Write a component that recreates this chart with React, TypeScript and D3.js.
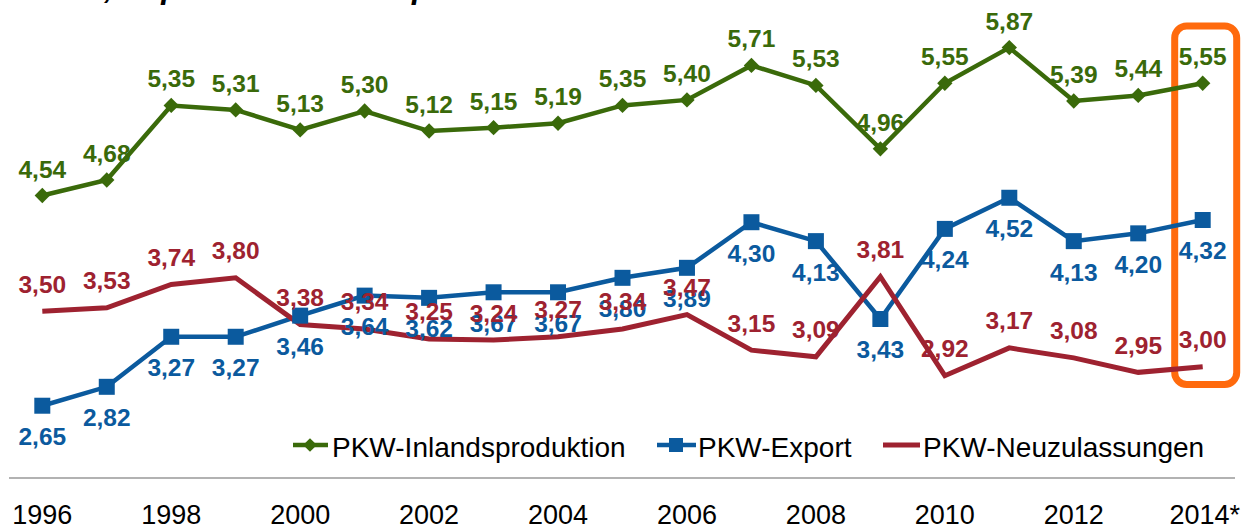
import React from "react";
import * as d3 from "d3";

const years = [1996, 1997, 1998, 1999, 2000, 2001, 2002, 2003, 2004, 2005, 2006, 2007, 2008, 2009, 2010, 2011, 2012, 2013, 2014];
const inlandsproduktion = [4.54, 4.68, 5.35, 5.31, 5.13, 5.30, 5.12, 5.15, 5.19, 5.35, 5.40, 5.71, 5.53, 4.96, 5.55, 5.87, 5.39, 5.44, 5.55];
const exportValues = [2.65, 2.82, 3.27, 3.27, 3.46, 3.64, 3.62, 3.67, 3.67, 3.80, 3.89, 4.30, 4.13, 3.43, 4.24, 4.52, 4.13, 4.20, 4.32];
const neuzulassungen = [3.50, 3.53, 3.74, 3.80, 3.38, 3.34, 3.25, 3.24, 3.27, 3.34, 3.47, 3.15, 3.09, 3.81, 2.92, 3.17, 3.08, 2.95, 3.00];
const tickYears = [1996, 1998, 2000, 2002, 2004, 2006, 2008, 2010, 2012, 2014];
const tickLabels = ["1996", "1998", "2000", "2002", "2004", "2006", "2008", "2010", "2012", "2014*"];
const seriesNames = ["PKW-Inlandsproduktion", "PKW-Export", "PKW-Neuzulassungen"];
const titleText = "in Mio., Export und Inlandsproduktion";

const GREEN = "#3A6A0A";
const BLUE = "#0B5A9E";
const RED = "#9E2230";
const ORANGE = "#FF6A0D";
const FONT = "'Liberation Sans', Arial, Helvetica, sans-serif";

export default function App() {
  const W = 1241;
  const H = 525;
  const x = d3.scaleLinear().domain([1996, 2014]).range([42.3, 1202.7]);
  const y = d3.scaleLinear().domain([2.5, 6.3]).range([422.4, -0.2]);
  const fmt = (v: number) => d3.format(".2f")(v).replace(".", ",");
  const line = d3
    .line<number>()
    .x((_, i) => x(years[i]))
    .y((v) => y(v));

  const diamond = d3.symbol().type(d3.symbolDiamond2).size(150)();
  const square = d3.symbol().type(d3.symbolSquare).size(256)();
  const legDiamond = d3.symbol().type(d3.symbolDiamond2).size(120)();
  const legSquare = d3.symbol().type(d3.symbolSquare).size(196)();

  const x2014 = x(2014);

  return (
    <svg
      width={W}
      height={H}
      style={{ position: "absolute", left: 0, top: 0, background: "#fff", fontFamily: FONT }}
    >
      <rect width={W} height={H} fill="#fff" />
      {/* cut-off title */}
      <text x={3} y={-2.5} fontSize={32} fontWeight="bold" fontStyle="italic" fill="#000">
        {titleText}
      </text>

      {/* highlight box */}
      <rect
        x={x2014 - 28}
        y={26}
        width={62}
        height={358.5}
        rx={12}
        ry={12}
        fill="none"
        stroke={ORANGE}
        strokeWidth={7}
      />

      {/* lines */}
      <path d={line(inlandsproduktion) || ""} fill="none" stroke={GREEN} strokeWidth={4.5} strokeLinejoin="miter" />
      <path d={line(exportValues) || ""} fill="none" stroke={BLUE} strokeWidth={4.5} strokeLinejoin="miter" />
      <path d={line(neuzulassungen) || ""} fill="none" stroke={RED} strokeWidth={5} strokeLinejoin="miter" />

      {/* markers */}
      {inlandsproduktion.map((v, i) => (
        <path key={"g" + i} d={diamond || ""} transform={`translate(${x(years[i])},${y(v)})`} fill={GREEN} />
      ))}
      {exportValues.map((v, i) => (
        <path key={"b" + i} d={square || ""} transform={`translate(${x(years[i])},${y(v)})`} fill={BLUE} />
      ))}

      {/* labels */}
      <g fontSize={24.5} fontWeight="bold" textAnchor="middle">
        {inlandsproduktion.map((v, i) => (
          <text key={"gl" + i} x={x(years[i])} y={y(v) - 18} fill={GREEN}>
            {fmt(v)}
          </text>
        ))}
        {exportValues.map((v, i) => (
          <text key={"bl" + i} x={x(years[i])} y={y(v) + 39.5} fill={BLUE}>
            {fmt(v)}
          </text>
        ))}
        {neuzulassungen.map((v, i) => (
          <text key={"rl" + i} x={x(years[i])} y={y(v) - 18.5} fill={RED}>
            {fmt(v)}
          </text>
        ))}
      </g>

      {/* legend */}
      <g fontSize={28} fill="#000">
        <line x1={293} x2={328} y1={445} y2={445} stroke={GREEN} strokeWidth={4.5} />
        <path d={legDiamond || ""} transform="translate(310,445)" fill={GREEN} />
        <text x={332} y={457}>{seriesNames[0]}</text>
        <line x1={657} x2={696} y1={445} y2={445} stroke={BLUE} strokeWidth={4.5} />
        <path d={legSquare || ""} transform="translate(676,445)" fill={BLUE} />
        <text x={698} y={457}>{seriesNames[1]}</text>
        <line x1={883} x2={920} y1={445} y2={445} stroke={RED} strokeWidth={5} />
        <text x={923} y={457}>{seriesNames[2]}</text>
      </g>

      {/* axis line */}
      <line x1={9} x2={1235} y1={478} y2={478} stroke="#999" strokeWidth={1.5} />

      {/* x tick labels */}
      <g fontSize={27} textAnchor="middle" fill="#000">
        {tickYears.map((t, i) => (
          <text key={t} x={x(t) + (i === tickYears.length - 1 ? 2 : 0)} y={523.5}>
            {tickLabels[i]}
          </text>
        ))}
      </g>
    </svg>
  );
}
